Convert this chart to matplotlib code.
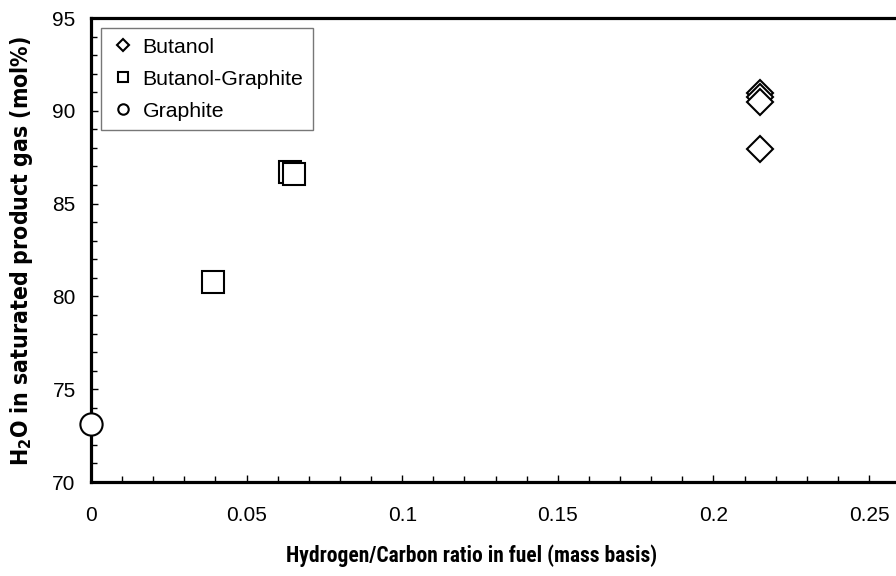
import matplotlib
matplotlib.use("Agg")
import matplotlib.pyplot as plt
from matplotlib.ticker import MultipleLocator, FuncFormatter

# H/C mass ratio of each fuel and measured water content of the product gas
butanol_hc = [0.215, 0.215, 0.215, 0.215]
butanol_h2o = [90.96, 90.72, 90.49, 87.95]
blend_hc = [0.0392, 0.0639, 0.0652]
blend_h2o = [80.8, 86.7, 86.6]
graphite_hc = [0.0]
graphite_h2o = [73.1]

xticks = [0, 0.05, 0.1, 0.15, 0.2, 0.25]
yticks = [70, 75, 80, 85, 90, 95]

plt.rcParams['font.family'] = ['Liberation Sans', 'DejaVu Sans']
plt.rcParams['mathtext.default'] = 'regular'

fig = plt.figure(figsize=(8.96, 5.76), dpi=100)
ax_w = 0.3 * 3112
ax_h = 464
ax = fig.add_axes([91 / 896, 94 / 576, ax_w / 896, ax_h / 576])

style = dict(linestyle='none', markerfacecolor='white', markeredgecolor='black',
             markeredgewidth=1.5)
ax.plot(butanol_hc, butanol_h2o, marker='D', markersize=13, label='Butanol', **style)
ax.plot(blend_hc, blend_h2o, marker='s', markersize=16.5, label='Butanol-Graphite', **style)
ax.plot(graphite_hc, graphite_h2o, marker='o', markersize=16, label='Graphite',
        clip_on=False, zorder=5, **style)

ax.set_xlim(0, 0.3)
ax.set_ylim(70, 95)
ax.set_xticks(xticks)
ax.set_yticks(yticks)
ax.xaxis.set_minor_locator(MultipleLocator(0.01))
ax.yaxis.set_minor_locator(MultipleLocator(1))
ax.xaxis.set_major_formatter(FuncFormatter(lambda v, p: f"{v:g}"))
ax.tick_params(which='both', direction='in', top=False, right=False,
               labelsize=15, width=1, colors='black')
ax.tick_params(which='major', length=5)
ax.tick_params(which='minor', length=4)
ax.tick_params(axis='x', which='major', pad=17)
ax.tick_params(axis='y', which='major', pad=11)

for side in ['left', 'bottom', 'top', 'right']:
    ax.spines[side].set_linewidth(2.3)

ax.set_xlabel('Hydrogen/Carbon ratio in fuel (mass basis)', fontsize=15.5,
              va='center', fontweight='bold',
              family=['Roboto Condensed', 'DejaVu Sans'], fontstretch='condensed')
ax.xaxis.set_label_coords((472 - 91) / ax_w, -(556 - 482) / ax_h)
ax.set_ylabel('H$_2$O in saturated product gas (mol%)', fontsize=16.5,
              va='center', fontweight='bold',
              family=['DejaVu Sans', 'Liberation Sans'], fontstretch='condensed')
ax.yaxis.set_label_coords(-(91 - 22) / ax_w, (482 - 251) / ax_h)

leg = ax.legend(loc='upper left', bbox_to_anchor=(10 / ax_w, 1 - 10 / ax_h),
                fontsize=15.3, markerscale=0.47, frameon=True, fancybox=False,
                borderaxespad=0, handlelength=1.2, handletextpad=0.3,
                labelspacing=0.62, borderpad=0.45)
leg.get_frame().set_edgecolor('#555555')
leg.get_frame().set_linewidth(1.0)

fig.savefig('out.png', dpi=100)
